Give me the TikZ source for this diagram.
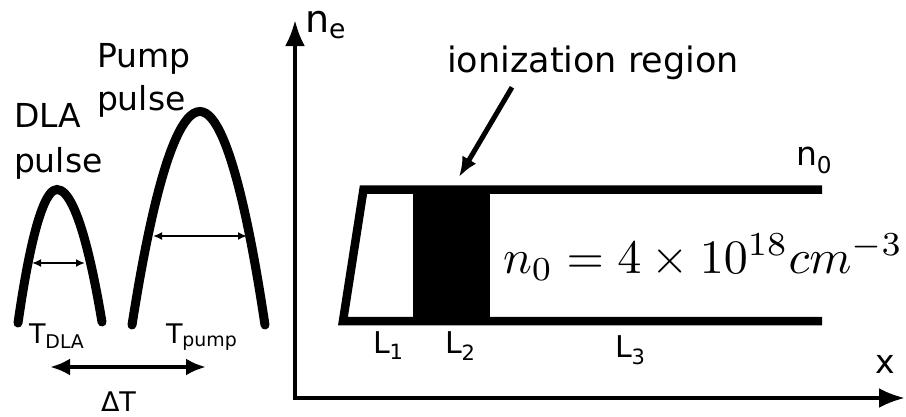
\documentclass[tikz,border=0pt]{standalone}
\usepackage{fontspec}
\setmainfont{DejaVu Sans}
\usetikzlibrary{arrows.meta}
\begin{document}
\begin{tikzpicture}[x=1pt,y=-1pt,
  lbl/.style={inner sep=0pt, outer sep=0pt},
  big/.style={lbl, font=\fontsize{33}{44}\selectfont},
  mid/.style={lbl, font=\fontsize{30}{36}\selectfont},
  small/.style={lbl, font=\fontsize{27}{32}\selectfont},
  pulseline/.style={line width=9pt, line cap=round},
  thinarrow/.style={line width=2pt, {Latex[length=9pt,width=8pt]}-{Latex[length=9pt,width=8pt]}},
  axis/.style={line width=4pt},
  profile/.style={line width=8.5pt, line join=miter}]
\useasboundingbox (0,0) rectangle (906,416);

% ---------- left: pulses ----------
\draw[pulseline] (18,323) parabola bend (57,189.5) (102,322);
\draw[pulseline] (132,325) parabola bend (200,111.5) (265,325);

\coordinate (dlaL) at (32,263);
\coordinate (dlaR) at (85,263);
\draw[thinarrow] (dlaL) -- (dlaR);
\coordinate (pmpL) at (153,236);
\coordinate (pmpR) at (247,236);
\draw[thinarrow] (pmpL) -- (pmpR);

\coordinate (dtL) at (50,367);
\coordinate (dtR) at (206,367);
\draw[line width=4.5pt, {Latex[length=20pt,width=17pt]}-{Latex[length=20pt,width=17pt]}] (dtL) -- (dtR);

\node[lbl, font=\fontsize{33}{43}\selectfont, anchor=base west, align=left] (pump) at (97,110) {Pump\\pulse};
\node[lbl, font=\fontsize{33}{45}\selectfont, anchor=base west, align=left] (dla) at (14,172) {DLA\\pulse};
\node[small, anchor=base west] (tdla) at (29,343) {T\textsubscript{DLA}};
\node[small, anchor=base west] (tpump) at (166,343) {T\textsubscript{pump}};
\node[small, anchor=base west] (dT) at (101,411) {ΔT};

% ---------- right: density profile ----------
\coordinate (yTip) at (295,20);
\coordinate (origin) at (295,398);
\coordinate (xTip) at (905,398);
\draw[axis, {Latex[length=26pt,width=20pt]}-{Latex[length=26pt,width=20pt]}] (yTip) -- (origin) -- (xTip);

\fill (413,189.5) rectangle (490,321);
\draw[profile] (822,189.5) -- (363.5,189.5) -- (343,321) -- (822,321);

\node[lbl, font=\fontsize{38}{44}\selectfont, anchor=base west] (ne) at (305,32) {n\textsubscript{e}};
\node[lbl, font=\fontsize{33}{40}\selectfont, anchor=base west] (n0) at (796,165) {n\textsubscript{0}};
\node[big, anchor=base] (xl) at (885,373) {x};
\node[mid, anchor=base west] (L1) at (373,353) {L\textsubscript{1}};
\node[mid, anchor=base west] (L2) at (445,353) {L\textsubscript{2}};
\node[mid, anchor=base west] (L3) at (615,357) {L\textsubscript{3}};

\node[lbl, font=\fontsize{35}{40}\selectfont, anchor=base] (ion) at (593,72) {ionization region};
\coordinate (ionTip) at (459,177);
\draw[line width=5pt, -{Latex[length=20pt,width=16pt]}] (ion.south -| 512,0) ++(0,8) -- (ionTip);

\node[lbl, anchor=base west] (eq) at (503,273) {\resizebox{400pt}{!}{$n_0 = 4\times 10^{18} cm^{-3}$}};
\end{tikzpicture}
\end{document}
